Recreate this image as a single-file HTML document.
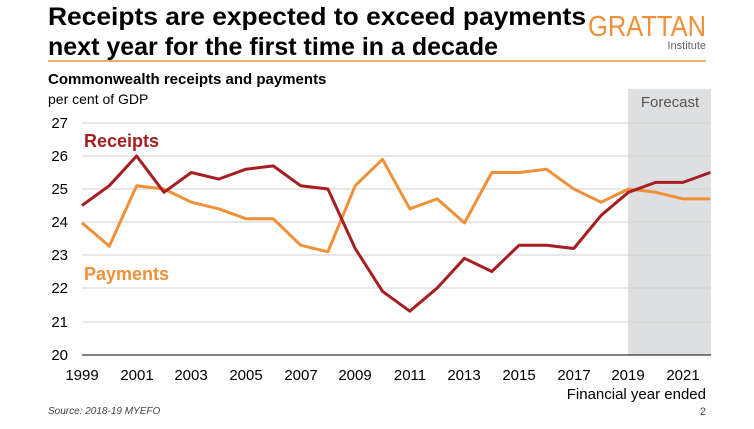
<!DOCTYPE html>
<html><head><meta charset="utf-8"><style>
body{margin:0;width:754px;height:424px;background:#fff;overflow:hidden;font-family:"Liberation Sans",Arial,sans-serif}
</style></head><body>
<svg width="754" height="424" xmlns="http://www.w3.org/2000/svg" font-family="Liberation Sans, Arial, sans-serif">
<text x="48" y="25" font-size="25" font-weight="bold" fill="#000" textLength="538" lengthAdjust="spacingAndGlyphs">Receipts are expected to exceed payments</text>
<text x="48" y="55" font-size="25" font-weight="bold" fill="#000" textLength="450" lengthAdjust="spacingAndGlyphs">next year for the first time in a decade</text>
<text x="588" y="36" font-size="29" fill="#F0913A" textLength="118" lengthAdjust="spacingAndGlyphs">GRATTAN</text>
<text x="706" y="49" font-size="11" fill="#666" text-anchor="end">Institute</text>
<line x1="48" y1="61" x2="706" y2="61" stroke="#F0913A" stroke-width="1.5"/>
<text x="48" y="84" font-size="15" font-weight="bold">Commonwealth receipts and payments</text>
<text x="48" y="104" font-size="14">per cent of GDP</text>
<rect x="628" y="89" width="83" height="266" fill="#DEDFE1"/>
<text x="670" y="107" font-size="15" fill="#555" text-anchor="middle">Forecast</text>
<g stroke="#d0d0d0" stroke-width="1">
<line x1="82" y1="123" x2="711" y2="123"/><line x1="82" y1="156" x2="711" y2="156"/><line x1="82" y1="189" x2="711" y2="189"/><line x1="82" y1="222" x2="711" y2="222"/><line x1="82" y1="255" x2="711" y2="255"/><line x1="82" y1="288" x2="711" y2="288"/><line x1="82" y1="322" x2="711" y2="322"/>
</g>
<line x1="82" y1="355" x2="711" y2="355" stroke="#000" stroke-width="1"/>
<g font-size="15" text-anchor="end">
<text x="68" y="128">27</text><text x="68" y="161">26</text><text x="68" y="194">25</text><text x="68" y="227">24</text><text x="68" y="260">23</text><text x="68" y="293">22</text><text x="68" y="327">21</text><text x="68" y="360">20</text>
</g>
<g font-size="15" text-anchor="middle">
<text x="82" y="380">1999</text><text x="137" y="380">2001</text><text x="191" y="380">2003</text><text x="246" y="380">2005</text><text x="301" y="380">2007</text><text x="355" y="380">2009</text><text x="410" y="380">2011</text><text x="464" y="380">2013</text><text x="519" y="380">2015</text><text x="574" y="380">2017</text><text x="628" y="380">2019</text><text x="683" y="380">2021</text>
</g>
<text x="706" y="399" font-size="15" text-anchor="end">Financial year ended</text>
<text x="48" y="414" font-size="10" font-style="italic" fill="#444">Source:    2018-19 MYEFO</text>
<text x="706" y="415" font-size="11" fill="#444" text-anchor="end">2</text>
<polyline fill="none" stroke="#F0913A" stroke-width="3" stroke-linejoin="round" points="82,222.9 109.3,246.1 136.6,185.7 164,189 191.3,202.2 218.6,208.8 245.9,218.7 273.2,218.7 300.6,245.2 327.9,251.8 355.2,185.7 382.5,159.3 409.8,208.8 437.2,198.9 464.5,222.9 491.8,172.5 519.1,172.5 546.4,169.2 573.8,189 601.1,202.2 628.4,189 655.7,192.3 683,198.9 710.3,198.9"/>
<polyline fill="none" stroke="#A51E22" stroke-width="3" stroke-linejoin="round" points="82,205.5 109.3,185.7 136.6,156 164,192.3 191.3,172.5 218.6,179.1 245.9,169.2 273.2,165.9 300.6,185.7 327.9,189 355.2,248.5 382.5,291.3 409.8,311.2 437.2,288 464.5,258.3 491.8,271.5 519.1,245.2 546.4,245.2 573.8,248.5 601.1,215.4 628.4,192.3 655.7,182.4 683,182.4 710.3,172.5"/>
<text x="84" y="147" font-size="18" font-weight="bold" fill="#A51E22">Receipts</text>
<text x="84" y="280" font-size="18" font-weight="bold" fill="#F0913A">Payments</text>
</svg>
</body></html>
